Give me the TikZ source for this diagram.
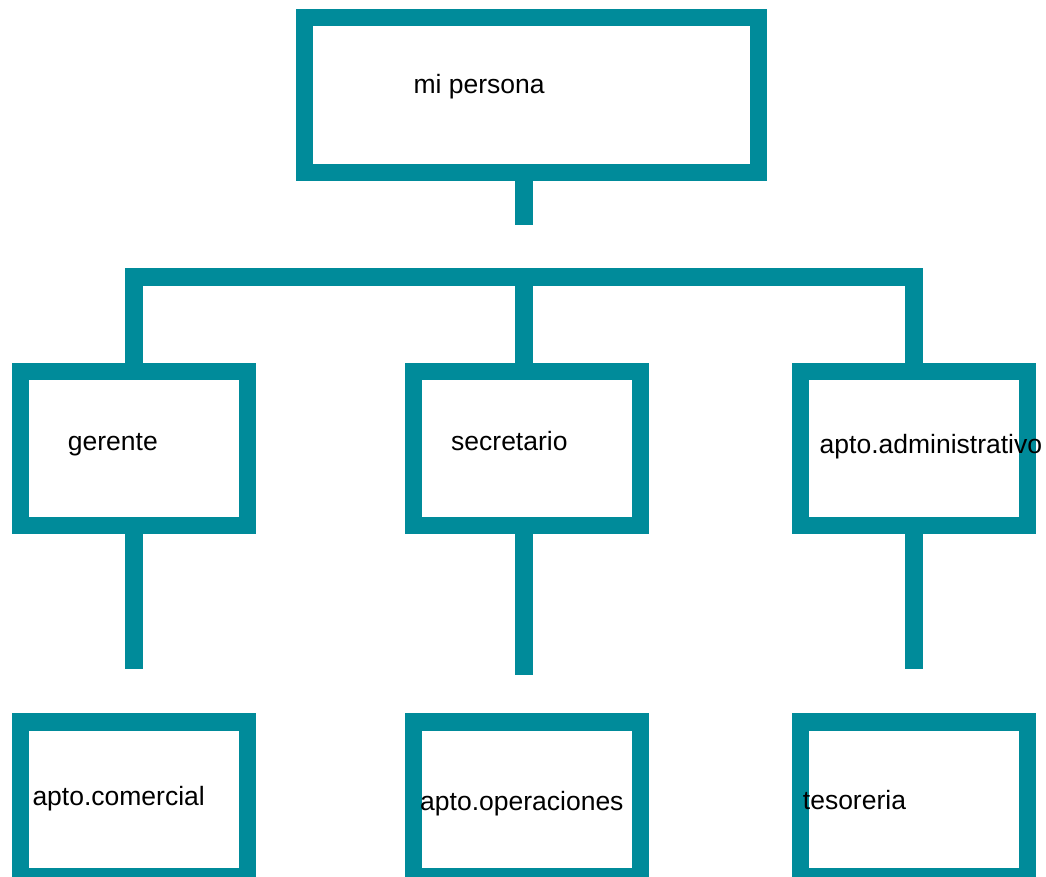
\documentclass[tikz,border=0pt]{standalone}
\usepackage{fontspec}
\setmainfont{Liberation Sans}
\usetikzlibrary{positioning}
\definecolor{petrol}{RGB}{0,139,154}

\begin{document}
\begin{tikzpicture}[x=1pt,y=-1pt,
    caja/.style={draw=petrol,line width=17.5pt,minimum width=227pt,minimum height=154.4pt,inner sep=0pt},
    enlace/.style={draw=petrol,line width=17.5pt},
    texto/.style={anchor=base west,inner sep=0pt,font=\fontsize{26.5}{30}\selectfont}]

	\clip (0,0) rectangle (1046,877);

	% cajas
	\node[caja,minimum width=454.4pt,minimum height=155pt] (persona) at (531.5,94.8) {};
	\node[caja] (gerente) at (133.8,448.5) {};
	\node[caja] (secretario) at (527.2,448.5) {};
	\node[caja] (admin) at (913.8,448.5) {};
	\node[caja,below=179pt of gerente] (comercial) {};
	\node[caja,below=179pt of secretario] (operaciones) {};
	\node[caja,below=179pt of admin] (tesoreria) {};

	% textos
	\node[texto] (tpersona) at (413.3,94) {mi persona};
	\node[texto] (tgerente) at (67.7,450) {gerente};
	\node[texto] (tsecretario) at (451,450) {secretario};
	\node[texto] (tadmin) at (819.5,453) {apto.administrativo};
	\node[texto] (tcomercial) at (32.3,805) {apto.comercial};
	\node[texto] (toperaciones) at (420,810) {apto.operaciones};
	\node[texto] (ttesoreria) at (802.7,809) {tesoreria};

	% enlaces
	\coordinate (stub) at (524,225.3);
	\coordinate (barra) at (524,277);
	\coordinate (fin1) at (133.8,669.3);
	\coordinate (fin2) at (524,675);
	\coordinate (fin3) at (913.8,669.3);
	\draw[enlace] (persona.south -| stub) -- (stub);
	\draw[enlace] (gerente.north) |- (barra) -| (admin.north);
	\draw[enlace] (barra) -- (barra |- secretario.north);
	\draw[enlace] (gerente.south) -- (fin1);
	\draw[enlace] (fin2 |- secretario.south) -- (fin2);
	\draw[enlace] (admin.south) -- (fin3);
\end{tikzpicture}
\end{document}
